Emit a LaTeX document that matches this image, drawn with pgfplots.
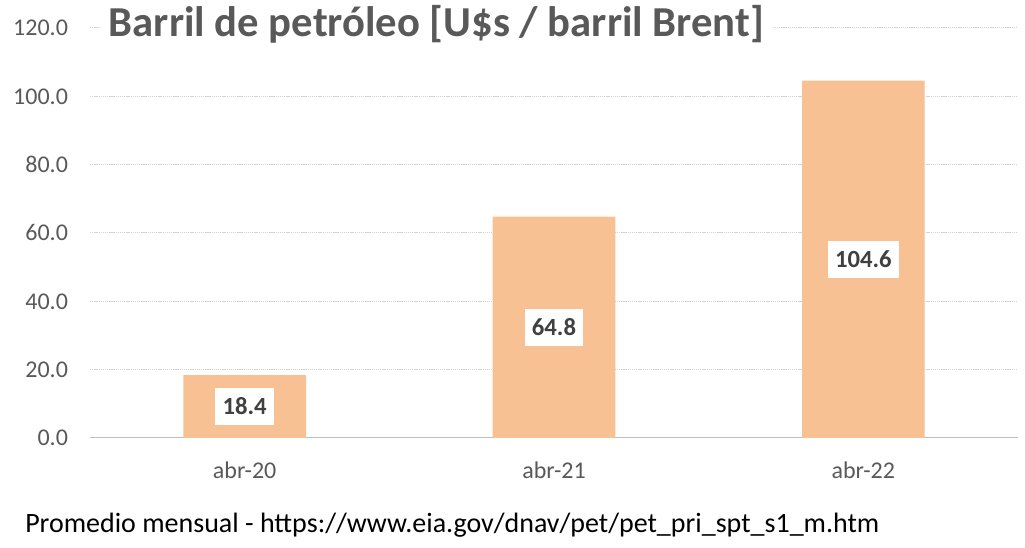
\documentclass[border=0pt]{standalone}
\usepackage{fontspec}
\setmainfont{Carlito}
\usepackage{pgfplots}
\pgfplotsset{compat=1.18}
\definecolor{barc}{HTML}{F8C193}
\definecolor{txt}{HTML}{595959}
\definecolor{lbl}{HTML}{404040}
\definecolor{gridc}{HTML}{D3D3D3}
\definecolor{axc}{HTML}{BFBFBF}
\begin{document}
\begin{tikzpicture}
\path[use as bounding box, fill=white] (0,0) rectangle (768.75pt,411pt);
\begin{axis}[
  at={(67.5pt,82.5pt)}, anchor=south west,
  scale only axis, width=696pt, height=307.5pt,
  xmin=-0.5, xmax=2.5, ymin=0, ymax=120,
  axis x line*=bottom, axis y line*=left,
  x axis line style={draw=axc, line width=0.75pt},
  y axis line style={draw=none},
  ytick={0,20,...,120},
  ytick style={draw=none},
  ymajorgrids,
  major grid style={draw=gridc, line width=0.75pt, dash pattern=on 1pt off 0.6pt},
  xtick={0,1,2},
  xticklabels={abr-20,abr-21,abr-22},
  major x tick style={draw=none},
  extra x ticks={-0.5,0.5,1.5,2.5},
  extra x tick labels={},
  extra x tick style={tick align=outside, major tick length=5pt, tick style={draw=axc, line width=0.75pt}, grid=none},
  tick label style={font=\fontsize{18}{21}\selectfont, text=txt},
  /pgf/number format/assume math mode=true,
  yticklabel style={/pgf/number format/fixed, /pgf/number format/fixed zerofill, /pgf/number format/precision=1, xshift=-13pt},
  xticklabel style={yshift=-14pt},
  clip=false,
]
\addplot[ybar, bar width=92pt, fill=barc, draw=none] coordinates {(0,18.4) (1,64.8) (2,104.6)};
\addplot[draw=none, mark=none, nodes near coords, point meta=explicit symbolic,
  nodes near coords align={center},
  every node near coord/.append style={fill=white, text=lbl, font=\fontsize{18.5}{21}\bfseries\selectfont, inner xsep=5.5pt, minimum height=27.75pt, anchor=center}]
  coordinates {(0,9.2) [18.4] (1,32.4) [64.8] (2,52.3) [104.6]};
\end{axis}
\node[anchor=base west, fill=white, inner xsep=6pt, inner ysep=6pt, text=txt, font=\fontsize{32}{36}\bfseries\selectfont] at (75.5pt,383.5pt) {Barril de petróleo [U\$s / barril Brent]};
\node[anchor=base west, inner sep=0pt, font=\fontsize{21}{24}\selectfont] at (18.75pt,11.25pt) {Promedio mensual - https://www.eia.gov/dnav/pet/pet\_pri\_spt\_s1\_m.htm};
\end{tikzpicture}
\end{document}
